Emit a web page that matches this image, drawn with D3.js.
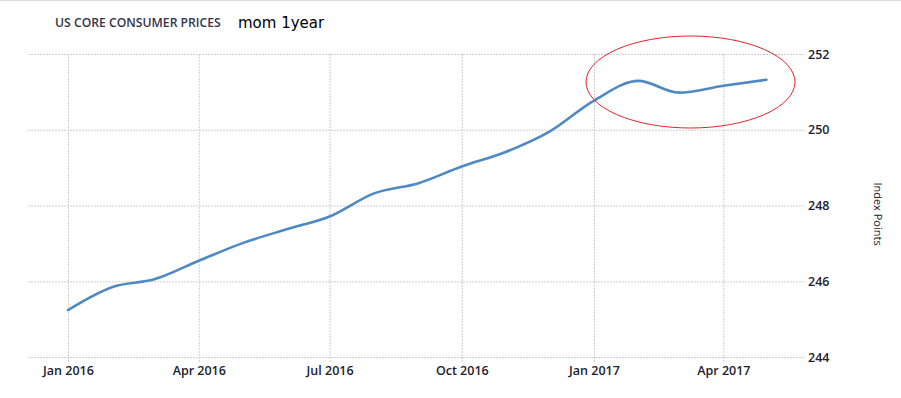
<!DOCTYPE html>
<html>
<head>
<meta charset="utf-8">
<script src="https://cdn.jsdelivr.net/npm/d3@7/dist/d3.min.js"></script>
<style>
  html, body { margin: 0; padding: 0; background: #fff; }
  svg { display: block; }
</style>
</head>
<body>
<script>
const months = ["2016-01","2016-02","2016-03","2016-04","2016-05","2016-06","2016-07","2016-08","2016-09","2016-10","2016-11","2016-12","2017-01","2017-02","2017-03","2017-04","2017-05"];
const values = [245.24, 245.85, 246.05, 246.54, 247.0, 247.37, 247.71, 248.32, 248.59, 249.03, 249.42, 249.95, 250.77, 251.29, 250.98, 251.16, 251.32];
const xTickLabels = ["Jan 2016","Apr 2016","Jul 2016","Oct 2016","Jan 2017","Apr 2017"];
const xTickDates = ["2016-01","2016-04","2016-07","2016-10","2017-01","2017-04"];
const yTicks = [244, 246, 248, 250, 252];
const titleText = "US CORE CONSUMER PRICES";
const subtitleText = "mom 1year";
const yAxisTitle = "Index Points";

const W = 901, H = 398;
const parse = d3.timeParse("%Y-%m");
const data = months.map((m, i) => ({ date: parse(m), value: values[i] }));

const svg = d3.select("body").append("svg").attr("width", W).attr("height", H);

// top border
svg.append("line").attr("x1", 0).attr("x2", W).attr("y1", 0.5).attr("y2", 0.5)
  .attr("stroke", "#dcdcdc").attr("stroke-width", 1);

const x = d3.scaleTime().domain([parse("2016-01"), parse("2017-01")]).range([68, 594]);
const y = d3.scaleLinear().domain([244, 252]).range([357, 54]);

const gridLeft = 27, gridRight = 804;

// y axis (right) with grid
const yAxis = d3.axisRight(y).tickValues(yTicks).tickSize(-(gridRight - gridLeft)).tickPadding(4).tickFormat(d3.format("d"));
const gy = svg.append("g").attr("transform", `translate(${gridRight},0)`).call(yAxis);
gy.select(".domain").remove();
gy.selectAll(".tick line").attr("stroke", "#cfcfcf").attr("stroke-dasharray", "2,1");
gy.selectAll(".tick text").attr("fill", "#22222e").style("font-family", "'Open Sans', sans-serif")
  .style("font-size", "12.5px").style("font-weight", "600");

// x axis (bottom) with grid
const xAxis = d3.axisBottom(x).tickValues(xTickDates.map(parse))
  .tickFormat((d, i) => xTickLabels[i]).tickSize(-(362 - 54)).tickPadding(4);
const gx = svg.append("g").attr("transform", "translate(0,362)").call(xAxis);
gx.select(".domain").remove();
gx.selectAll(".tick line").attr("stroke", "#cfcfcf").attr("stroke-dasharray", "2,1");
gx.selectAll(".tick text").attr("fill", "#22222e").style("font-family", "'Open Sans', sans-serif")
  .style("font-size", "12.5px").style("font-weight", "600");

// line
const line = d3.line().x(d => x(d.date)).y(d => y(d.value)).curve(d3.curveMonotoneX);
svg.append("path").datum(data).attr("d", line).attr("fill", "none")
  .attr("stroke", "#4f89c4").attr("stroke-width", 2.6).attr("stroke-linecap", "round");

// ellipse annotation
svg.append("ellipse").attr("cx", 690.5).attr("cy", 82).attr("rx", 104.5).attr("ry", 46)
  .attr("fill", "none").attr("stroke", "#e8202a").attr("stroke-width", 1);

// titles
svg.append("text").attr("x", 55).attr("y", 27).text(titleText)
  .attr("fill", "#33334a").style("font-family", "'Open Sans', sans-serif")
  .style("font-size", "12.2px").style("font-weight", "600");
svg.append("text").attr("x", 238).attr("y", 28).text(subtitleText)
  .attr("fill", "#000").style("font-family", "'DejaVu Sans', sans-serif").style("font-size", "15px");

// y axis title
svg.append("text").attr("transform", "translate(874,214) rotate(90)")
  .attr("text-anchor", "middle").text(yAxisTitle)
  .attr("fill", "#222").style("font-family", "'Open Sans', sans-serif").style("font-size", "11px");
</script>
</body>
</html>
